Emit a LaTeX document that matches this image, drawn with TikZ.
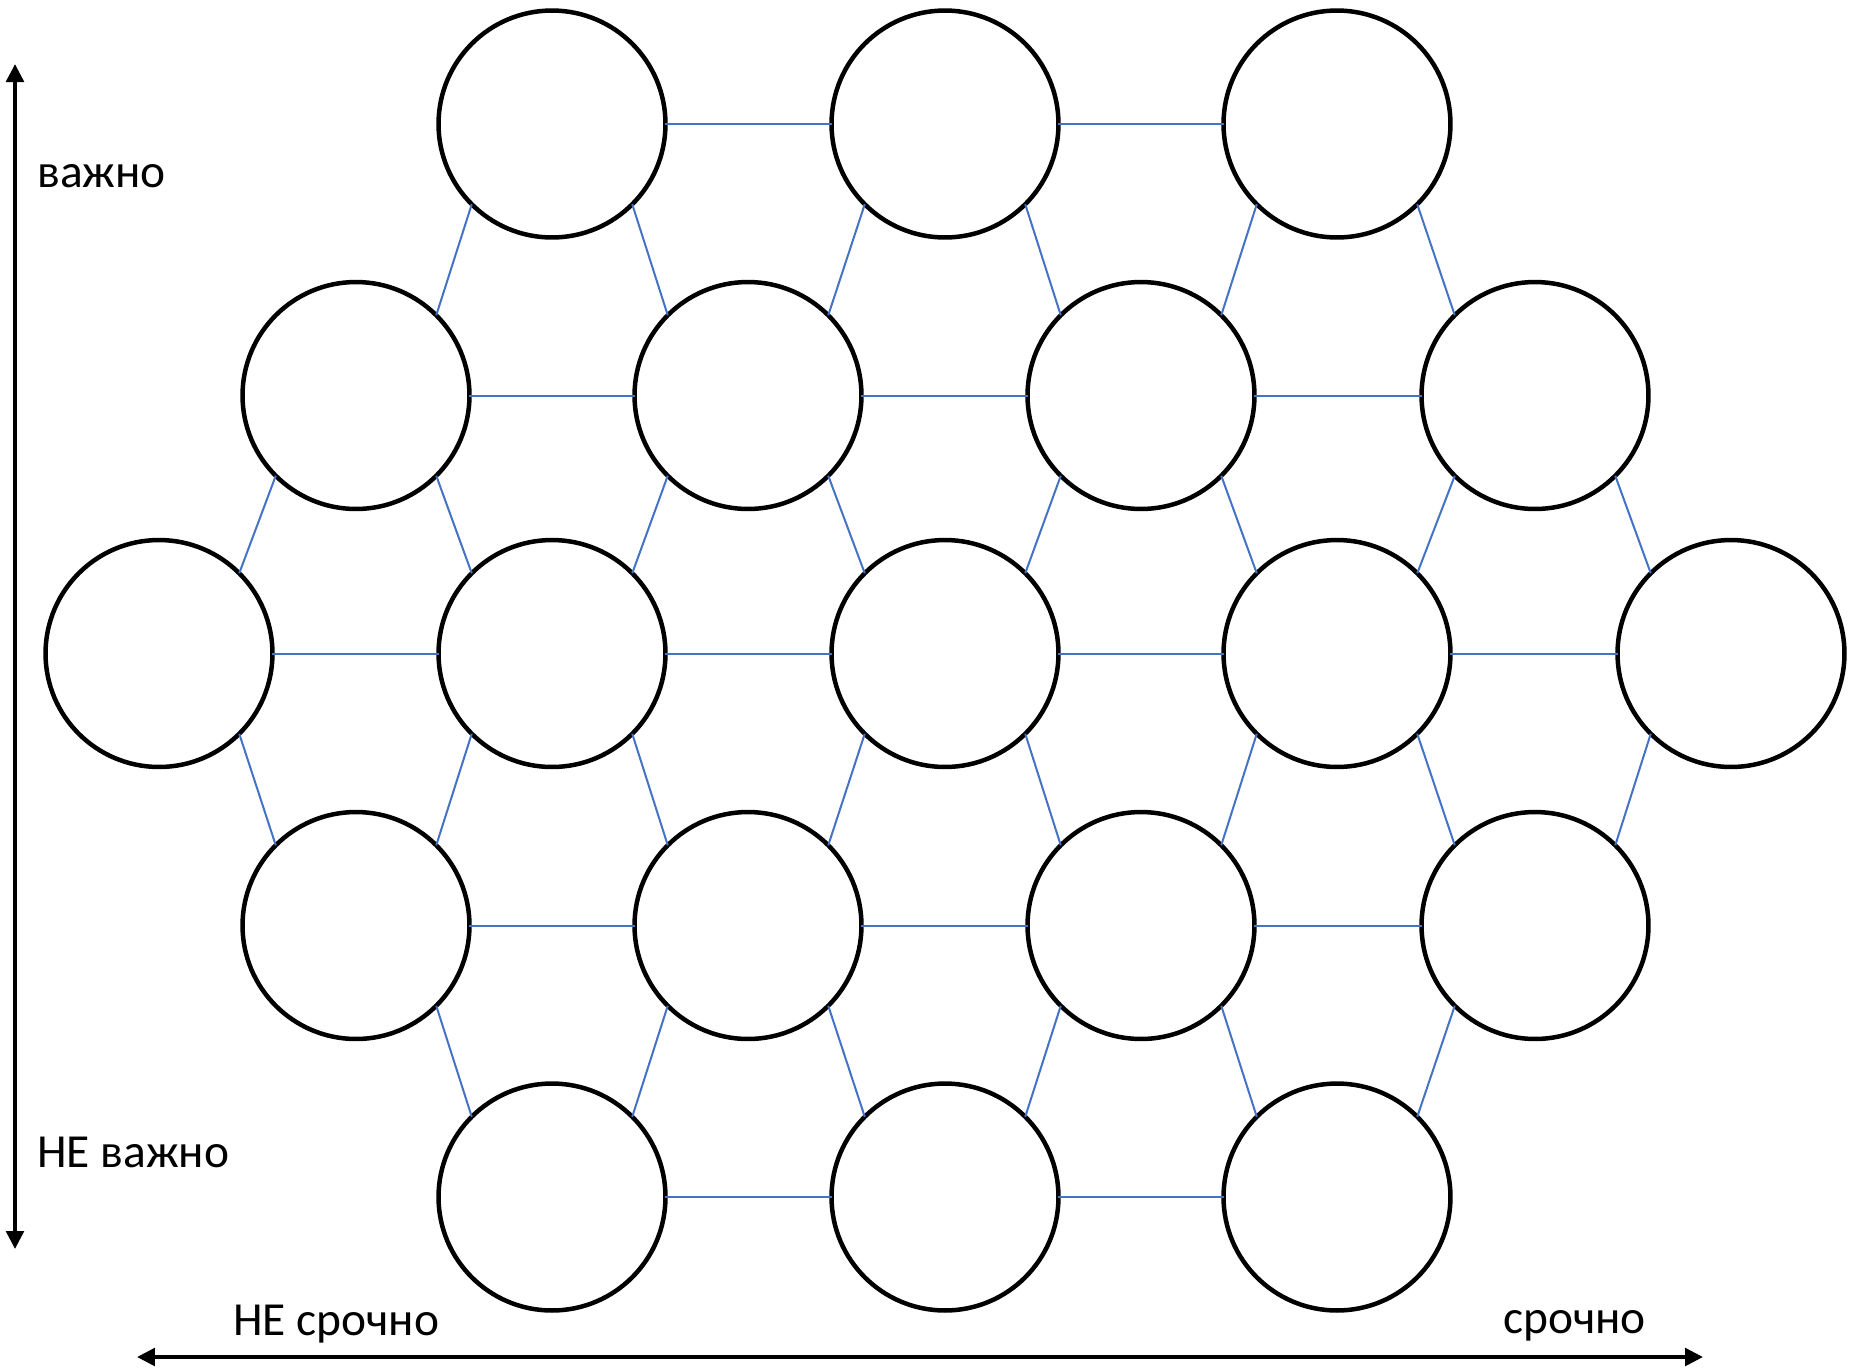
\documentclass[tikz,border=0pt]{standalone}
\usepackage{fontspec}
\setmainfont{Carlito}
\usetikzlibrary{arrows.meta}
\definecolor{linkblue}{HTML}{4472C4}

\begin{document}
\begin{tikzpicture}[
        x=0.02cm, y=-0.02cm,
        cell/.style={circle, draw, line width=0.09cm, minimum size=4.54cm, inner sep=0pt, outer sep=0pt},
        link/.style={draw=linkblue, line width=0.04cm},
        axis/.style={line width=0.08cm, {Triangle[width=0.35cm, length=0.36cm]}-{Triangle[width=0.35cm, length=0.36cm]}},
        lbl/.style={anchor=base west, inner sep=0pt, font=\fontsize{27}{32}\selectfont}
    ]
    \useasboundingbox (0, 0) rectangle (1856, 1367);

    % Riga superiore
    \node[cell] (a1) at (552, 124) {};
    \node[cell] (a2) at (945, 124) {};
    \node[cell] (a3) at (1337, 124) {};

    \node[cell] (b1) at (356, 395.5) {};
    \node[cell] (b2) at (748, 395.5) {};
    \node[cell] (b3) at (1141, 395.5) {};
    \node[cell] (b4) at (1535, 395.5) {};

    % Riga centrale
    \node[cell] (c1) at (159, 653.5) {};
    \node[cell] (c2) at (552, 653.5) {};
    \node[cell] (c3) at (945, 653.5) {};
    \node[cell] (c4) at (1337, 653.5) {};
    \node[cell] (c5) at (1731, 653.5) {};

    \node[cell] (d1) at (356, 925.5) {};
    \node[cell] (d2) at (748, 925.5) {};
    \node[cell] (d3) at (1141, 925.5) {};
    \node[cell] (d4) at (1535, 925.5) {};

    % Riga inferiore
    \node[cell] (e1) at (552, 1197) {};
    \node[cell] (e2) at (945, 1197) {};
    \node[cell] (e3) at (1337, 1197) {};

    % Collegamenti orizzontali
    \draw[link] (a1) -- (a2) -- (a3);
    \draw[link] (b1) -- (b2) -- (b3) -- (b4);
    \draw[link] (c1) -- (c2) -- (c3) -- (c4) -- (c5);
    \draw[link] (d1) -- (d2) -- (d3) -- (d4);
    \draw[link] (e1) -- (e2) -- (e3);

    % Collegamenti diagonali
    \foreach \u/\l in {a1/b1, a2/b2, a3/b3, b1/c1, b2/c2, b3/c3, b4/c4, c2/d1, c3/d2, c4/d3, c5/d4, d2/e1, d3/e2, d4/e3}
        \draw[link] (\u.south west) -- (\l.north east);
    \foreach \u/\l in {a1/b2, a2/b3, a3/b4, b1/c2, b2/c3, b3/c4, b4/c5, c1/d1, c2/d2, c3/d3, c4/d4, d1/e1, d2/e2, d3/e3}
        \draw[link] (\u.south east) -- (\l.north west);

    % Assi
    \coordinate (vtop) at (15, 64);
    \coordinate (vbot) at (15, 1249);
    \coordinate (hleft) at (137, 1357);
    \coordinate (hright) at (1703, 1357);
    \draw[axis] (vtop) -- (vbot);
    \draw[axis] (hleft) -- (hright);

    \node[lbl] (imp)    at (37, 187)   {важно};
    \node[lbl] (notimp) at (37, 1167)  {НЕ важно};
    \node[lbl] (noturg) at (233, 1335) {НЕ срочно};
    \node[lbl] (urg)    at (1503, 1333) {срочно};

    \end{tikzpicture}
\end{document}
